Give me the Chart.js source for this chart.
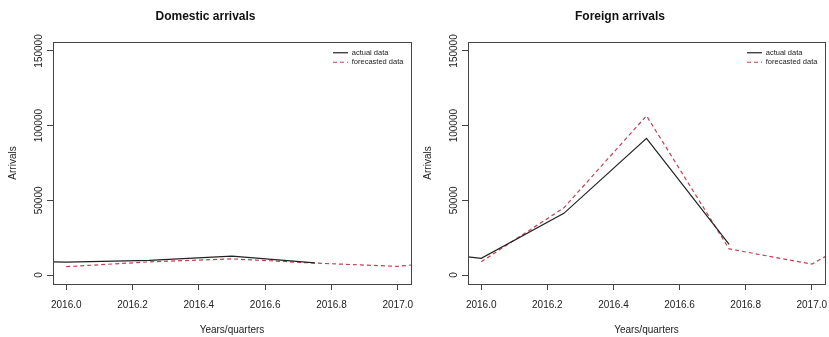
<!DOCTYPE html>
<html>
<head>
<meta charset="utf-8">
<script src="https://cdn.jsdelivr.net/npm/chart.js@4.4.0/dist/chart.umd.min.js"></script>
<style>
  body { margin: 0; background: #fff; }
  #wrap { position: relative; width: 829px; height: 337px; }
  #domChart { position: absolute; left: 0; top: 0; }
  #forChart { position: absolute; left: 415px; top: 0; }
</style>
</head>
<body>
<div id="wrap">
  <canvas id="domChart" width="415" height="337"></canvas>
  <canvas id="forChart" width="414" height="337"></canvas>
</div>
<script>
// quarters (decimal years)
const quartersActual = [2015.75, 2016.0, 2016.25, 2016.5, 2016.75];
const quartersForecast = [2016.0, 2016.25, 2016.5, 2016.75, 2017.0, 2017.25];

const domesticActual = [9000, 8700, 9800, 12700, 8100];
const domesticForecast = [5600, 8800, 10800, 8000, 5800, 11500];

const foreignActual = [17500, 11200, 41300, 91500, 20600];
const foreignForecast = [8900, 45000, 106600, 17500, 7300, 38000];

const xTicks = [2016.0, 2016.2, 2016.4, 2016.6, 2016.8, 2017.0];
const yTicks = [0, 50000, 100000, 150000];
const seriesLabels = ["actual data", "forecasted data"];

Chart.defaults.font.family = "'Liberation Sans', Arial, sans-serif";
Chart.defaults.color = "#222";

const boxPlugin = {
  id: "boxPlugin",
  afterDatasetsDraw(chart) {
    const a = chart.chartArea;
    const ctx = chart.ctx;
    ctx.save();
    ctx.strokeStyle = "#444";
    ctx.lineWidth = 1;
    ctx.strokeRect(Math.round(a.left) + 0.5, Math.round(a.top) + 0.5,
      Math.round(a.right - a.left), Math.round(a.bottom - a.top));
    ctx.restore();
  }
};

// put the legend in the top right corner of the plot, like R's legend("topright")
const legendMover = {
  id: "legendMover",
  afterLayout(chart) {
    const lg = chart.legend;
    const a = chart.chartArea;
    lg.left = a.right - 80;
    lg.right = a.right;
    lg.top = a.top + 5;
    lg.bottom = lg.top + 30;
  }
};

function toPoints(xs, ys) {
  return xs.map((x, i) => ({ x: x, y: ys[i] }));
}

function createArrivalsChart(selector, title, actual, forecast) {
  const ctx = document.getElementById(selector).getContext("2d");
  return new Chart(ctx, {
    type: "scatter",
    data: {
      datasets: [
        {
          label: seriesLabels[0],
          data: toPoints(quartersActual, actual),
          showLine: true,
          borderColor: "#222",
          backgroundColor: "#222",
          borderWidth: 1.2,
          pointRadius: 0
        },
        {
          label: seriesLabels[1],
          data: toPoints(quartersForecast, forecast),
          showLine: true,
          borderColor: "#c04252",
          backgroundColor: "#c04252",
          borderWidth: 1.2,
          borderDash: [4, 3],
          pointRadius: 0
        }
      ]
    },
    options: {
      responsive: false,
      animation: false,
      layout: { padding: { left: 0, right: 4, top: 0, bottom: 0 } },
      plugins: {
        tooltip: { enabled: false },
        title: {
          display: true,
          text: title,
          color: "#111",
          font: { size: 12, weight: "bold" },
          padding: { top: 9, bottom: 18.6 }
        },
        legend: {
          position: "chartArea",
          align: "start",
          labels: {
            usePointStyle: true,
            pointStyle: "line",
            pointStyleWidth: 15,
            boxHeight: 7.5,
            padding: 2,
            color: "#222",
            font: { size: 7.5 },
            generateLabels(chart) {
              const items = Chart.defaults.plugins.legend.labels.generateLabels(chart);
              items.forEach((item, i) => {
                const ds = chart.data.datasets[i];
                item.lineDash = ds.borderDash || [];
                item.strokeStyle = ds.borderColor;
                item.lineWidth = 1.2;
              });
              return items;
            }
          }
        }
      },
      scales: {
        x: {
          type: "linear",
          min: 2015.96,
          max: 2017.04,
          afterFit(scale) {
            scale.height = 53;
            scale.paddingLeft = 0;
            scale.paddingRight = 0;
          },
          afterBuildTicks(scale) { scale.ticks = xTicks.map(v => ({ value: v })); },
          ticks: {
            padding: 9,
            font: { size: 10 },
            color: "#222",
            callback: v => Number(v).toFixed(1)
          },
          grid: { drawOnChartArea: false, drawTicks: true, tickLength: 6, color: "#444" },
          border: { display: true, color: "#444" },
          title: {
            display: true,
            text: "Years/quarters",
            font: { size: 10 },
            color: "#222",
            padding: { top: 0, bottom: 0.5 }
          }
        },
        y: {
          type: "linear",
          min: -6000,
          max: 156000,
          afterFit(scale) { scale.width = 53; },
          afterBuildTicks(scale) { scale.ticks = yTicks.map(v => ({ value: v })); },
          ticks: {
            minRotation: 90,
            maxRotation: 90,
            crossAlign: "center",
            padding: -8.5,
            font: { size: 10 },
            color: "#222",
            callback: v => String(v)
          },
          grid: { drawOnChartArea: false, drawTicks: true, tickLength: 6, color: "#444" },
          border: { display: true, color: "#444" },
          title: {
            display: true,
            text: "Arrivals",
            font: { size: 10 },
            color: "#222",
            padding: { top: 7, bottom: 0 }
          }
        }
      }
    },
    plugins: [boxPlugin, legendMover]
  });
}

createArrivalsChart("domChart", "Domestic arrivals", domesticActual, domesticForecast);
createArrivalsChart("forChart", "Foreign arrivals", foreignActual, foreignForecast);
</script>
</body>
</html>
